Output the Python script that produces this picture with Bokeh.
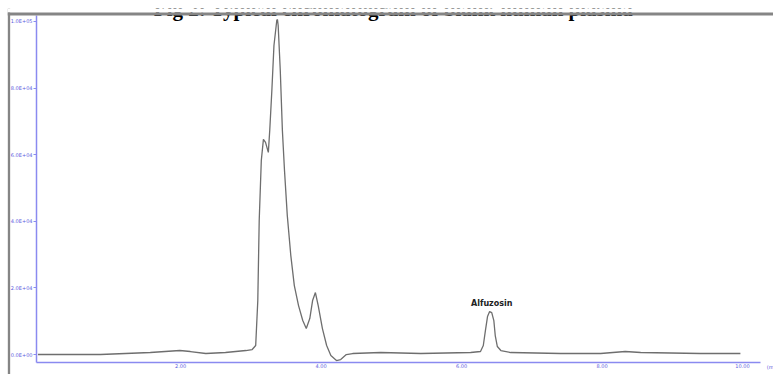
from bokeh.plotting import figure
from bokeh.models import Label, Span, FixedTicker, Range1d, BoxAnnotation
from bokeh.embed import file_html
from bokeh.resources import INLINE

# data: retention time (min) and detector response (counts)
time_min = [-0.03, 0.86, 1.57, 1.99, 2.14, 2.36, 2.64, 2.93, 3.02, 3.07, 3.10, 3.12, 3.15,
            3.18, 3.21, 3.25, 3.27, 3.30, 3.33, 3.37, 3.38, 3.39, 3.42, 3.45, 3.48, 3.52,
            3.57, 3.62, 3.68, 3.74, 3.79, 3.84, 3.88, 3.92, 3.96, 4.02, 4.08, 4.14, 4.22,
            4.28, 4.36, 4.45, 4.85, 5.42, 6.13, 6.27, 6.31, 6.34, 6.37, 6.40, 6.43, 6.46,
            6.48, 6.51, 6.56, 6.70, 7.41, 7.98, 8.33, 8.55, 9.40, 9.97]
response = [0, 0, 600, 1200, 900, 300, 600, 1200, 1500, 2700, 16200, 40200, 58300,
            64600, 63700, 60700, 67300, 79300, 92800, 100300, 100600, 98800, 85300, 67300,
            55300, 41700, 29700, 20700, 14700, 10200, 7800, 10800, 16200, 18600, 14700,
            7800, 2700, -300, -1800, -1500, 0, 300, 600, 300, 600, 900, 2700, 7200, 11400,
            12900, 12600, 10200, 5700, 2400, 1200, 600, 300, 300, 900, 600, 300, 300]

x_ticks = [2, 4, 6, 8, 10]
x_tick_labels = ["2.00", "4.00", "6.00", "8.00", "10.00"]
y_ticks = [0, 20000, 40000, 60000, 80000, 100000]
y_tick_labels = ["0.0E+00", "2.0E+04", "4.0E+04", "6.0E+04", "8.0E+04", "1.0E+05"]

peak_name = "Alfuzosin"
peak_time = 6.43
peak_height = 12900

title_text = "Fig 2: Typical chromatogram of blank human plasma"
x_unit_text = "(min)"

# axis extents (data units)
x_axis_start, x_axis_end = -0.05, 10.26
y_axis_start, y_axis_end = -2400, 101800

BLUE = "#8a8af0"
LBLUE = "#5b5be0"
GRAY = "#858585"

p = figure(width=773, height=374, output_backend="svg", toolbar_location=None,
           x_range=Range1d(-0.463, 10.441), y_range=Range1d(-6000, 103900),
           min_border_left=7, min_border_right=0, min_border_top=8,
           min_border_bottom=0)
p.background_fill_color = "white"
p.border_fill_color = "white"
p.outline_line_color = None
p.xgrid.visible = False
p.ygrid.visible = False

# outer gray frame (left edge)
p.add_layout(Span(location=p.x_range.start + 0.02, dimension="height",
                  line_color=GRAY, line_width=2.5))

p.line(time_min, response, line_color="#6e6e6e", line_width=1.3)

for ax in (p.xaxis[0], p.yaxis[0]):
    ax.axis_line_color = BLUE
    ax.axis_line_width = 1.5
    ax.major_tick_line_color = BLUE
    ax.minor_tick_line_color = None
    ax.major_label_text_color = LBLUE
    ax.major_label_text_font_size = "5px"
    ax.major_label_text_font = "DejaVu Sans"

p.xaxis.fixed_location = y_axis_start
p.xaxis.bounds = (x_axis_start, x_axis_end)
p.xaxis.ticker = FixedTicker(ticks=x_ticks)
p.xaxis.major_label_overrides = {t: l for t, l in zip(x_ticks, x_tick_labels)}
p.xaxis.major_tick_out = 0
p.xaxis.major_tick_in = 0
p.xaxis.major_label_standoff = 1

p.yaxis.fixed_location = x_axis_start
p.yaxis.bounds = (y_axis_start, y_axis_end)
p.yaxis.ticker = FixedTicker(ticks=y_ticks)
p.yaxis.major_label_overrides = {t: l for t, l in zip(y_ticks, y_tick_labels)}
p.yaxis.major_tick_out = 3
p.yaxis.major_tick_in = 0
p.yaxis.major_label_standoff = 1

p.add_layout(Label(x=peak_time, y=peak_height, text=peak_name, text_align="center",
                   text_baseline="bottom", y_offset=4, text_font="DejaVu Sans",
                   text_font_style="bold", text_font_size="8px", text_color="#222222"))

p.add_layout(Label(x=393, y=8, x_units="canvas", y_units="canvas", text=title_text,
                   text_align="center", text_baseline="alphabetic",
                   text_font="Liberation Serif", text_font_style="bold",
                   text_font_size="21px", text_color="black"))

# white strip under the (cropped) title, then the top gray frame edge
p.add_layout(BoxAnnotation(top=p.y_range.end, bottom=102730, fill_color="white",
                           fill_alpha=1, line_color=None, level="overlay"))
p.add_layout(Span(location=102250, dimension="width", line_color=GRAY,
                  line_width=3, level="overlay"))

p.add_layout(Label(x=x_axis_end, y=y_axis_start, text=x_unit_text, x_offset=6,
                   y_offset=-4, text_align="left", text_baseline="middle",
                   text_font="DejaVu Sans", text_font_size="5px", text_color=LBLUE))

open("out.html", "w").write(file_html(p, INLINE))
